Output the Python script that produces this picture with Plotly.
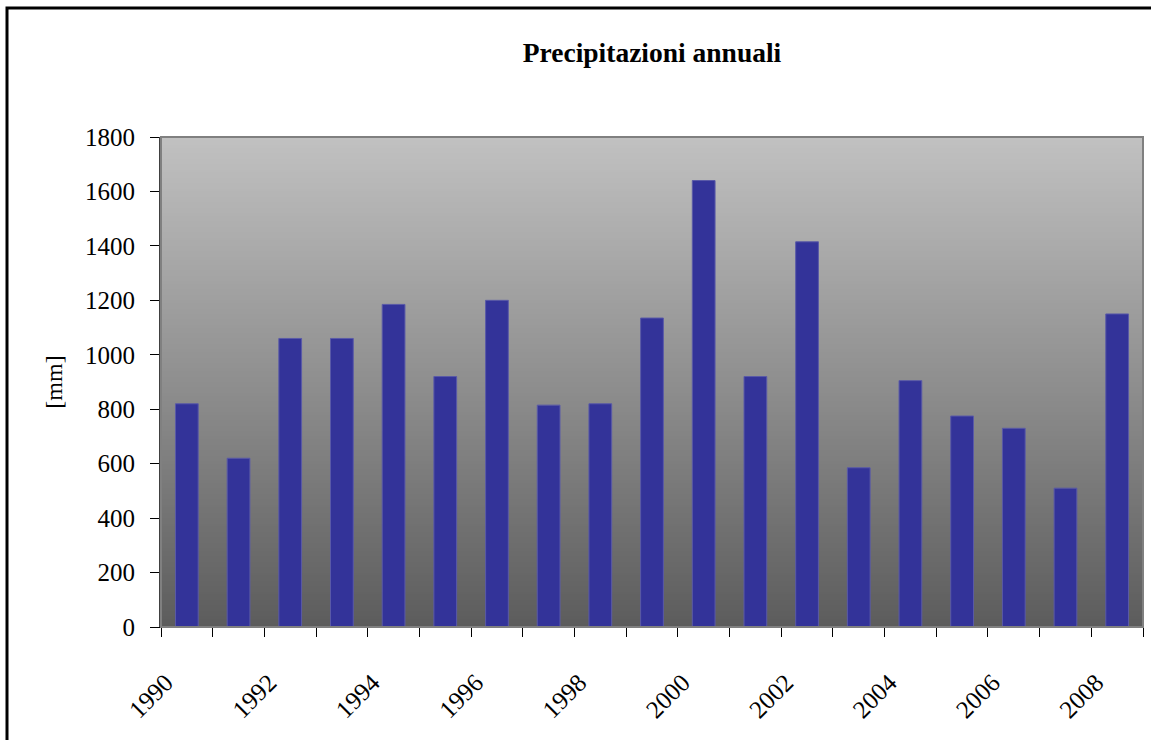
import numpy as np
import plotly.graph_objects as go

# Annual rainfall totals
years = list(range(1990, 2009))
rain_mm = [820, 620, 1060, 1060, 1185, 920, 1200, 815, 820, 1135,
           1640, 920, 1415, 585, 905, 775, 730, 510, 1150]
label_years = [y for y in years if y % 2 == 0]
y_ticks = list(range(0, 1801, 200))

W, H = 1151, 740
ML, MR, MT, MB = 161, 8, 137, 113
PW, PH = W - ML - MR, H - MT - MB

FONT = "Liberation Serif"
x_lo, x_hi = years[0] - 0.5, years[-1] + 0.5
y_lo, y_hi = y_ticks[0], y_ticks[-1]

fig = go.Figure()

# vertical grey gradient behind the bars
edges = np.linspace(y_lo, y_hi, 181)
mids = (edges[:-1] + edges[1:]) / 2
fig.add_trace(go.Heatmap(
    x=[x_lo, x_hi], y=edges, z=[[v] for v in mids],
    colorscale=[[0, "#5c5c5c"], [1, "#c1c1c1"]], zmin=y_lo, zmax=y_hi,
    showscale=False, hoverinfo="skip",
))

fig.add_trace(go.Bar(
    x=years, y=rain_mm, width=0.44,
    marker=dict(color="#333399", line=dict(color="#5a5aa8", width=1)),
    hovertemplate="%{x}: %{y} mm<extra></extra>",
))

# invisible carrier for the overlaid label axis
fig.add_trace(go.Scatter(x=[x_lo, x_hi], y=[y_lo, y_lo], xaxis="x2",
                         mode="markers", marker=dict(opacity=0),
                         hoverinfo="skip", showlegend=False))

fig.update_layout(
    width=W, height=H,
    margin=dict(l=ML, r=MR, t=MT, b=MB),
    paper_bgcolor="white", plot_bgcolor="#909090",
    showlegend=False,
    font=dict(family=FONT, color="black", size=25),
    title=dict(text="<b>Precipitazioni annuali</b>", x=0.5, xanchor="center",
               xref="paper", y=1 - 52 / H, yanchor="middle",
               font=dict(family=FONT, size=27.5, color="black")),
    xaxis=dict(range=[x_lo, x_hi], tickmode="linear", tick0=x_lo, dtick=1,
               showticklabels=False, ticks="outside", ticklen=9,
               tickcolor="black", showgrid=False, zeroline=False,
               showline=True, linecolor="black", linewidth=1),
    xaxis2=dict(range=[x_lo, x_hi], overlaying="x", side="bottom",
                tickmode="array", tickvals=label_years,
                ticktext=[str(y) for y in label_years],
                tickangle=-45, ticks="", showgrid=False, zeroline=False,
                showline=False, ticklabelstandoff=35, ticklabelshift=-21,
                tickfont=dict(family=FONT, size=25)),
    yaxis=dict(range=[y_lo, y_hi], tickmode="array", tickvals=y_ticks,
               ticks="outside", ticklen=9, tickcolor="black",
               ticklabelstandoff=10,
               showgrid=True, gridcolor="black", gridwidth=1,
               zeroline=False, showline=True, linecolor="#404040",
               linewidth=2, title=dict(text="[mm]", standoff=16,
                                       font=dict(family=FONT, size=24)),
               tickfont=dict(family=FONT, size=25)),
)

# plot-area border
fig.add_shape(type="rect", xref="x domain", yref="y domain",
              x0=0, x1=1, y0=0, y1=1, line=dict(color="#808080", width=2),
              layer="above")

# outer chart frame, running off the right and bottom edges
fx0 = (7 - ML) / PW
fy1 = (H - MB - 8) / PH
fig.add_shape(type="rect", xref="paper", yref="paper",
              x0=fx0, x1=1 + 40 / PW, y0=-(MB + 40) / PH, y1=fy1,
              line=dict(color="black", width=3), layer="above")

fig.write_html("out.html")
